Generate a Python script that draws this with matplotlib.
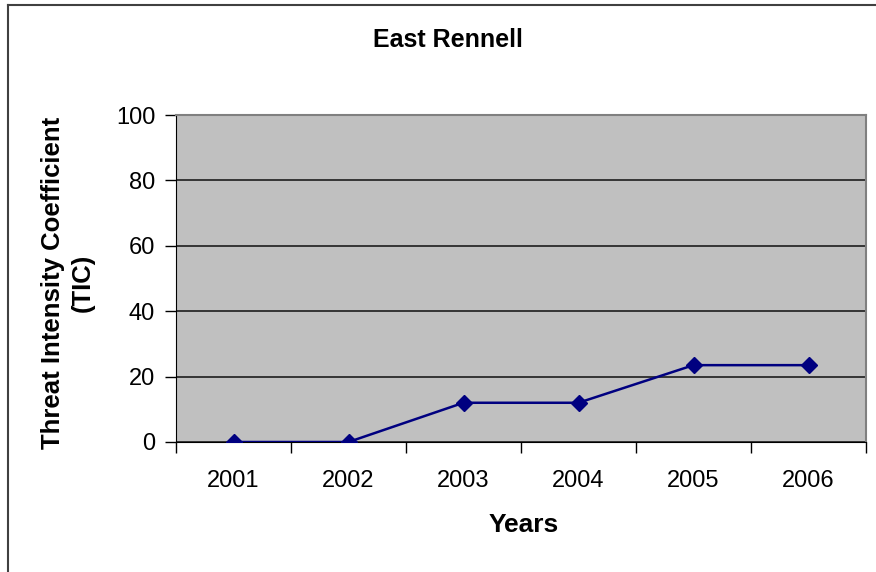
import matplotlib.pyplot as plt
from matplotlib.lines import Line2D

years = ['2001', '2002', '2003', '2004', '2005', '2006']
tic = [0, 0, 12, 12, 23.5, 23.5]

plt.rcParams['font.family'] = ['Liberation Sans', 'DejaVu Sans']

fig = plt.figure(figsize=(8.76, 5.72), dpi=100)
ax = fig.add_axes([176 / 876, 1 - 442 / 572, 690 / 876, 327 / 572])
ax.set_facecolor('#C0C0C0')

x = list(range(len(years)))
ax.plot(x, tic, color='#000080', marker='D', markersize=8.5, linewidth=1.8, zorder=3)

ax.set_xlim(-0.5, len(years) - 0.5)
ax.set_ylim(0, 100)
ax.set_yticks(range(0, 101, 20))
ax.yaxis.grid(True, color='#2a2a2a', linewidth=1.3)
ax.set_axisbelow(True)

ax.set_xticks(x)
ax.set_xticklabels(years)
ax.set_xticks([i - 0.5 for i in range(len(years) + 1)], minor=True)
ax.tick_params(axis='x', which='major', length=0, pad=20, labelsize=17)
ax.tick_params(axis='x', which='minor', length=8, width=1, direction='out')
ax.tick_params(axis='y', length=8, width=1, labelsize=17, pad=7)

for side in ['top', 'right']:
    ax.spines[side].set_color('#808080')
    ax.spines[side].set_linewidth(1.5)
ax.spines['left'].set_color('black')
ax.spines['bottom'].set_color('black')

fig.text(448 / 876, 1 - 40 / 572, 'East Rennell', fontsize=18, fontweight='bold',
         ha='center', va='center')
fig.text(524 / 876, 1 - 525 / 572, 'Years', fontsize=19, fontweight='bold',
         ha='center', va='center')
fig.text(68 / 876, 1 - 283 / 572, 'Threat Intensity Coefficient\n(TIC)', fontsize=18.5,
         fontweight='bold', ha='center', va='center', rotation=90, linespacing=1.3)

# outer chart border (only left and top visible)
fig.add_artist(Line2D([8 / 876, 8 / 876], [0, 1 - 5 / 572], transform=fig.transFigure,
                      color='#404040', linewidth=1.5))
fig.add_artist(Line2D([8 / 876, 1], [1 - 5 / 572, 1 - 5 / 572], transform=fig.transFigure,
                      color='#404040', linewidth=1.5))

plt.savefig('out.png', dpi=100)
